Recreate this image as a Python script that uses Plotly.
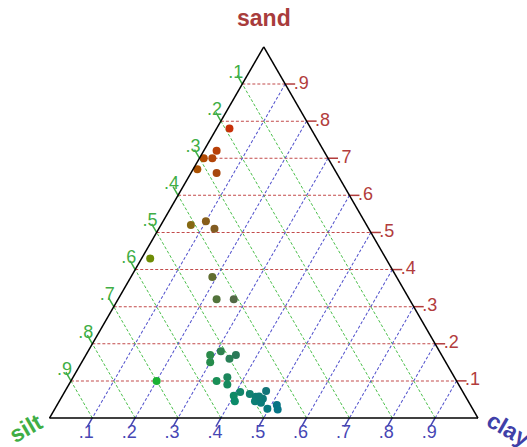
import plotly.graph_objects as go

# ---------------- data ----------------
sand = [0.78, 0.72, 0.70, 0.70, 0.67, 0.66, 0.52, 0.53, 0.51, 0.43,
        0.38, 0.32, 0.32, 0.17, 0.18, 0.17, 0.15, 0.16, 0.10, 0.10,
        0.11, 0.09, 0.070, 0.060, 0.045, 0.065, 0.057, 0.073, 0.052, 0.045,
        0.041, 0.025, 0.035, 0.023, 0.058]
silt = [0.19, 0.25, 0.29, 0.27, 0.32, 0.28, 0.41, 0.37, 0.36, 0.55,
        0.43, 0.45, 0.41, 0.54, 0.51, 0.48, 0.55, 0.50, 0.70, 0.56,
        0.53, 0.54, 0.520, 0.540, 0.545, 0.500, 0.490, 0.458, 0.476, 0.498,
        0.486, 0.479, 0.452, 0.456, 0.482]
clay = [0.03, 0.03, 0.01, 0.03, 0.01, 0.06, 0.07, 0.10, 0.13, 0.02,
        0.19, 0.23, 0.27, 0.29, 0.31, 0.35, 0.30, 0.34, 0.20, 0.34,
        0.36, 0.37, 0.410, 0.400, 0.410, 0.435, 0.453, 0.469, 0.472, 0.457,
        0.473, 0.496, 0.513, 0.521, 0.460]

tick_vals = [0.1, 0.2, 0.3, 0.4, 0.5, 0.6, 0.7, 0.8, 0.9]
tick_text = [".1", ".2", ".3", ".4", ".5", ".6", ".7", ".8", ".9"]
axis_titles = ["sand", "silt", "clay"]

# ---------------- geometry / style ----------------
FIG_W, FIG_H = 527, 447
X0, X1 = 49.5, 478.0
Y_BOTTOM = 418.0
TRI_W = X1 - X0
TRI_H = TRI_W * 3 ** 0.5 / 2
Y_TOP = Y_BOTTOM - TRI_H
dom_x = [X0 / FIG_W, X1 / FIG_W]
dom_y = [1 - Y_BOTTOM / FIG_H, 1 - Y_TOP / FIG_H]

TICK_LEN = 10
TICK_SIZE = TICK_LEN / 1.4
FONT = "Liberation Sans, Arial, sans-serif"
SAND_C, SILT_C, CLAY_C = "#b23c3c", "#3fae45", "#4646b4"
SAND_G, SILT_G, CLAY_G = "#c24a4a", "#4cbf4c", "#5050cc"


def off(d):
    return d / TRI_W


point_colors = ["rgb(%d,%d,%d)" % (round(255 * s), round(255 * t), round(255 * c))
                for s, t, c in zip(sand, silt, clay)]

fig = go.Figure()

# data points
fig.add_trace(go.Scatterternary(
    a=sand, b=silt, c=clay, mode="markers",
    marker=dict(size=8, color=point_colors, line=dict(width=0)),
    cliponaxis=False, showlegend=False, hoverinfo="a+b+c"))

# edge points for each axis' ticks
sand_edge = dict(a=tick_vals, b=[0] * 9, c=[1 - v for v in tick_vals])       # right edge
silt_edge = dict(a=[1 - v for v in tick_vals], b=tick_vals, c=[0] * 9)       # left edge
clay_edge = dict(a=[0] * 9, b=[1 - v for v in tick_vals], c=tick_vals)       # bottom edge


def tick_trace(edge, angle, color):
    return go.Scatterternary(
        **edge, mode="markers",
        marker=dict(symbol="line-ns", angle=angle, standoff=TICK_LEN / 2, size=TICK_SIZE,
                    line=dict(color=color, width=1.5)),
        cliponaxis=False, showlegend=False, hoverinfo="skip")


fig.add_trace(tick_trace(sand_edge, -90, SAND_C))
fig.add_trace(tick_trace(silt_edge, 150, SILT_C))
fig.add_trace(tick_trace(clay_edge, 30, CLAY_C))

# sand labels (right of right edge)
fig.add_trace(go.Scatterternary(
    **sand_edge, mode="markers+text", text=tick_text, textposition="middle right",
    marker=dict(size=12, opacity=0),
    textfont=dict(family=FONT, size=18, color=SAND_C),
    cliponaxis=False, showlegend=False, hoverinfo="skip"))

# silt labels (up-left of left edge), anchored slightly up the edge
s2 = off(2)
fig.add_trace(go.Scatterternary(
    a=[1 - v + s2 for v in tick_vals], b=[v - s2 for v in tick_vals], c=[0] * 9,
    mode="text", text=tick_text, textposition="top left",
    textfont=dict(family=FONT, size=18, color=SILT_C),
    cliponaxis=False, showlegend=False, hoverinfo="skip"))

# clay labels (below bottom edge), anchored slightly left along the edge
s6 = off(6)
fig.add_trace(go.Scatterternary(
    a=[0] * 9, b=[1 - v + s6 for v in tick_vals], c=[v - s6 for v in tick_vals],
    mode="markers+text", text=tick_text, textposition="bottom center",
    marker=dict(size=9.6, opacity=0),
    textfont=dict(family=FONT, size=18, color=CLAY_C),
    cliponaxis=False, showlegend=False, hoverinfo="skip"))


def axis(gcolor):
    return dict(title=dict(text=""), showticklabels=False, ticks="",
                tickmode="linear", tick0=0, dtick=0.1,
                showgrid=True, gridcolor=gcolor, griddash="3px,2px", gridwidth=1,
                showline=True, linecolor="black", linewidth=1.5, min=0)


fig.update_layout(
    width=FIG_W, height=FIG_H,
    margin=dict(l=0, r=0, t=0, b=0),
    paper_bgcolor="white",
    ternary=dict(domain=dict(x=dom_x, y=dom_y), bgcolor="white", sum=1,
                 aaxis=axis(SAND_G), baxis=axis(SILT_G), caxis=axis(CLAY_G)),
    annotations=[
        dict(text="<b>%s</b>" % axis_titles[0], x=264 / FIG_W, y=1 - 18 / FIG_H,
             xref="paper", yref="paper", showarrow=False, xanchor="center", yanchor="middle",
             font=dict(family=FONT, size=23, color="#a83c3c")),
        dict(text="<b>%s</b>" % axis_titles[1], x=26 / FIG_W, y=1 - 428 / FIG_H,
             xref="paper", yref="paper", showarrow=False, xanchor="center", yanchor="middle",
             textangle=-30, font=dict(family=FONT, size=23, color="#3fae45")),
        dict(text="<b>%s</b>" % axis_titles[2], x=508 / FIG_W, y=1 - 429 / FIG_H,
             xref="paper", yref="paper", showarrow=False, xanchor="center", yanchor="middle",
             textangle=30, font=dict(family=FONT, size=23, color="#4040a8")),
    ],
)

fig.write_html("out.html")
